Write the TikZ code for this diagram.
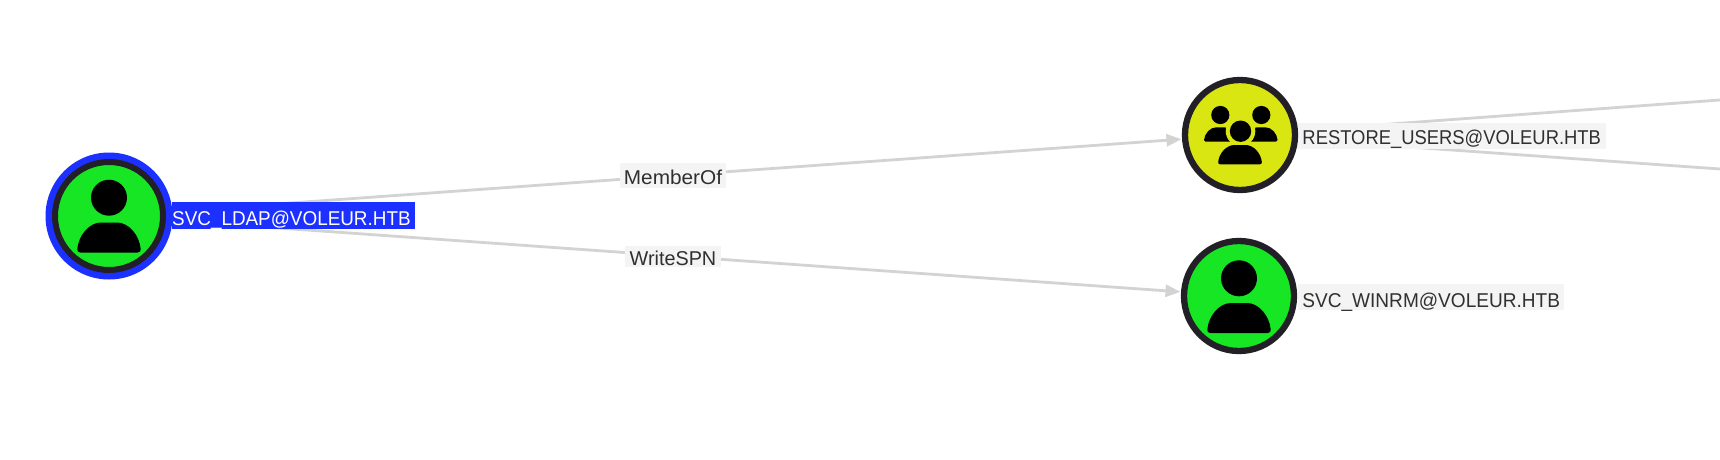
\documentclass[tikz,border=0pt]{standalone}
\usepackage{fontspec}
\usepackage{graphicx}
\setmainfont{Liberation Sans}
\usetikzlibrary{arrows.meta}
\definecolor{nodegreen}{HTML}{17E625}
\definecolor{nodeyellow}{HTML}{DAE612}
\definecolor{ringdark}{HTML}{231F26}
\definecolor{selblue}{HTML}{1C30FF}
\definecolor{edgegray}{HTML}{D3D3D3}
\definecolor{labelbg}{HTML}{F4F4F4}
\definecolor{labeltext}{HTML}{303030}
\newcommand{\bodypath}{(-28.7,30) -- (28.7,30) .. controls (30.9,30) and (32,28.6) .. (31.7,26.5) .. controls (30.5,13) and (20,0) .. (8,0) -- (-8,0) .. controls (-20,0) and (-30.5,13) .. (-31.7,26.5) .. controls (-32,28.6) and (-30.9,30) .. (-28.7,30) -- cycle}
\tikzset{
  usernode/.style={circle,draw=ringdark,line width=6.3pt,inner sep=0pt,minimum size=110pt},
  usercolor/.style={fill=nodegreen},
  groupcolor/.style={fill=nodeyellow},
  nodelabel/.style={rectangle,fill=labelbg,text=labeltext,inner sep=0pt,text height=23.5pt,text depth=3pt,anchor=west,font=\fontsize{20}{24}\selectfont},
  edgelabel/.style={rectangle,fill=labelbg,text=labeltext,inner sep=0pt,font=\fontsize{20}{24}\selectfont},
  edgeline/.style={draw=edgegray,line width=2.8pt},
  edgearrow/.style={edgeline,-{Triangle[length=15pt,width=12pt,fill=edgegray]}},
  groupicon/.pic={
    \fill[black] (-19.7,-20) circle[radius=9.1];
    \fill[black] (21.3,-20) circle[radius=9.1];
    \begin{scope}[shift={(-19.7,-7.7)},xscale=.514,yscale=.48]\fill[black] \bodypath;\end{scope}
    \begin{scope}[shift={(21.3,-7.7)},xscale=.514,yscale=.48]\fill[black] \bodypath;\end{scope}
    \fill[nodeyellow] (0.5,-3.8) circle[radius=14.8];
    \fill[black] (0.5,-3.8) circle[radius=10.7];
    \begin{scope}[shift={(0,10)},xscale=.688,yscale=.643]\fill[black] \bodypath;\end{scope}
  }
}
\begin{document}
\begin{tikzpicture}[x=1pt,y=-1pt]
\useasboundingbox (0,0) rectangle (1720,460);
\clip (0,0) rectangle (1720,460);
\fill[white] (0,0) rectangle (1720,460);
\coordinate (restoreA) at (1720,100);
\coordinate (restoreB) at (1720,169);
\path (109,216) node[circle,inner sep=0pt,minimum size=127pt] (ldap) {};
\path (1240,135) node[circle,inner sep=0pt,minimum size=117pt] (restore) {};
\path (1239,296) node[circle,inner sep=0pt,minimum size=117pt] (winrm) {};
% connectors
\draw[edgearrow] (ldap) -- (restore);
\draw[edgearrow] (ldap) -- (winrm);
\draw[edgeline] (restore) -- (restoreA);
\draw[edgeline] (restore) -- (restoreB);
% edge labels
\node[edgelabel,minimum width=106pt,text height=21.3pt,text depth=3.7pt] (lblmember) at (673,175.5) {\scalebox{1.04}[1]{MemberOf}};
\node[edgelabel,minimum width=96pt,text height=19pt,text depth=2.3pt] (lblwrite) at (673,256.7) {\scalebox{.99}[1]{WriteSPN}};
% node labels
\node[nodelabel,fill=selblue,text=white,minimum width=242pt] (lblldap) at (172,215.5) {\scalebox{.944}[1]{SVC\_LDAP@VOLEUR.HTB}\hspace*{4.4pt}};
\node[nodelabel,minimum width=309pt,text height=21.5pt,text depth=4.8pt] (lblrestore) at (1297,135.8) {\scalebox{.92}[1]{RESTORE\_USERS@VOLEUR.HTB}};
\node[nodelabel,minimum width=266pt] (lblwinrm) at (1298,297) {\scalebox{.953}[1]{SVC\_WINRM@VOLEUR.HTB}};
% node discs
\fill[selblue] (ldap.center) circle[radius=63.5];
\node[usernode,usercolor,line width=6pt,minimum size=108pt] (ldapdisc) at (ldap.center) {};
\node[usernode,groupcolor] (restoredisc) at (restore.center) {};
\node[usernode,usercolor] (winrmdisc) at (winrm.center) {};
% icons
\begin{scope}[shift={(109,216)}]
  \fill[black] (0,-18.3) circle[radius=18];
  \begin{scope}[shift={(0,6.5)}]\fill[black] \bodypath;\end{scope}
\end{scope}
\begin{scope}[shift={(1239,296)}]
  \fill[black] (0,-17.7) circle[radius=18];
  \begin{scope}[shift={(0,7)}]\fill[black] \bodypath;\end{scope}
\end{scope}
\pic at (1240,135) {groupicon};
\end{tikzpicture}
\end{document}
